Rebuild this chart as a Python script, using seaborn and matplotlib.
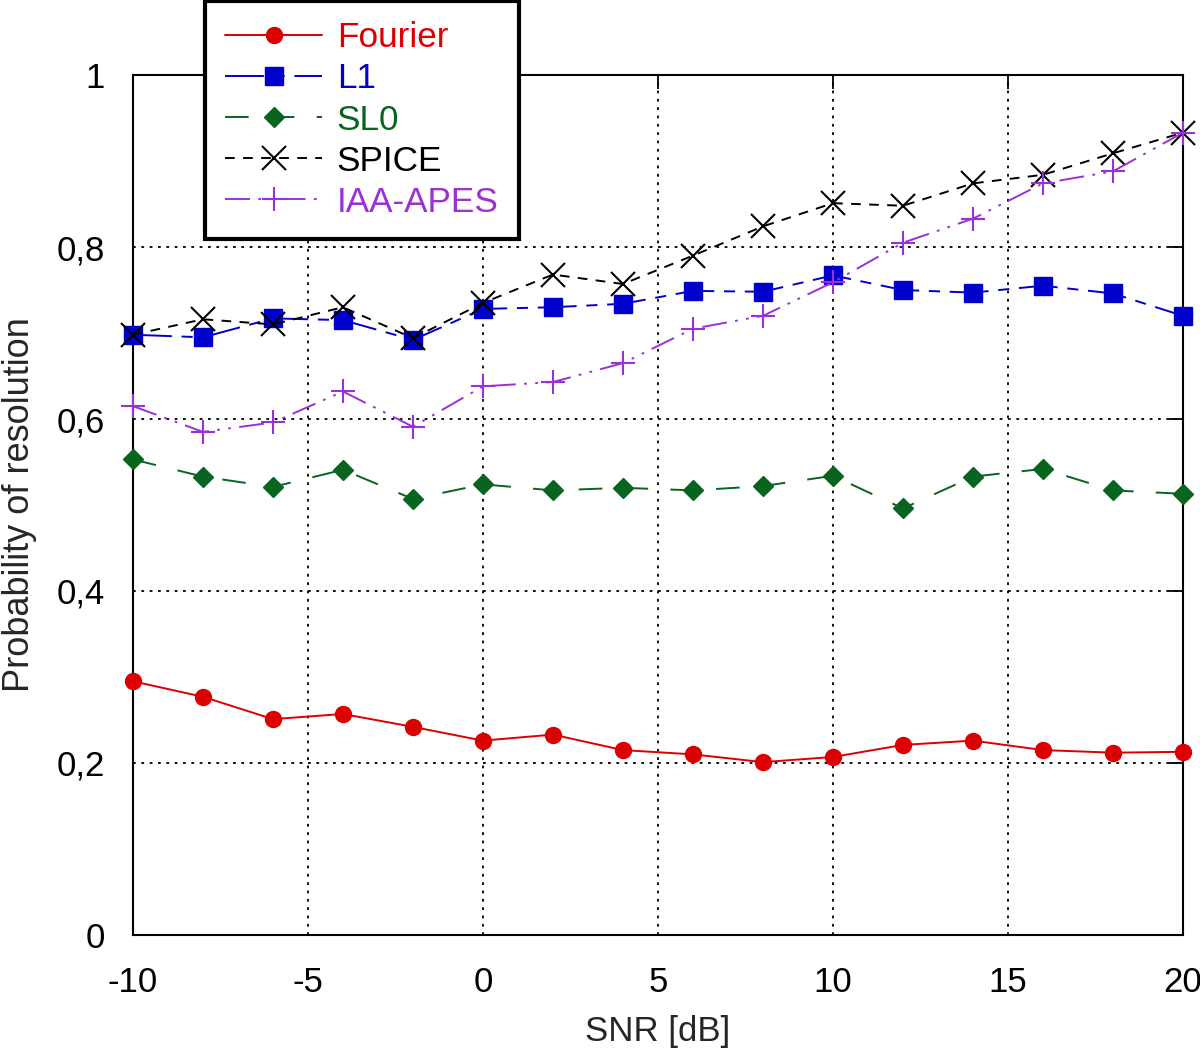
import matplotlib
matplotlib.use("Agg")
import matplotlib.pyplot as plt
import seaborn as sns
import pandas as pd
import numpy as np

snr = [-10, -8, -6, -4, -2, 0, 2, 4, 6, 8, 10, 12, 14, 16, 18, 20]
fourier = [0.295, 0.277, 0.251, 0.257, 0.242, 0.226, 0.233, 0.215, 0.210, 0.201, 0.207, 0.221, 0.226, 0.215, 0.212, 0.213]
l1 = [0.698, 0.695, 0.717, 0.715, 0.692, 0.728, 0.730, 0.734, 0.749, 0.748, 0.767, 0.750, 0.747, 0.755, 0.746, 0.720]
sl0 = [0.553, 0.533, 0.521, 0.541, 0.507, 0.524, 0.517, 0.520, 0.517, 0.522, 0.534, 0.496, 0.533, 0.542, 0.517, 0.513]
spice = [0.698, 0.716, 0.710, 0.730, 0.694, 0.735, 0.768, 0.757, 0.790, 0.824, 0.851, 0.848, 0.874, 0.884, 0.909, 0.933]
iaa = [0.615, 0.585, 0.596, 0.632, 0.591, 0.638, 0.643, 0.665, 0.705, 0.720, 0.759, 0.805, 0.833, 0.874, 0.888, 0.933]

series_names = ["Fourier", "L1", "SL0", "SPICE", "IAA-APES"]
series_values = [fourier, l1, sl0, spice, iaa]
colors = ["#dc0000", "#0000cc", "#08641e", "#000000", "#9b30d6"]

xticks = [-10, -5, 0, 5, 10, 15, 20]
yticks = [0, 0.2, 0.4, 0.6, 0.8, 1.0]
ytick_labels = ["0", "0,2", "0,4", "0,6", "0,8", "1"]

sns.set_style("white")
plt.rcParams["font.family"] = ["Liberation Sans", "DejaVu Sans"]
plt.rcParams["lines.scale_dashes"] = False

fig = plt.figure(figsize=(12, 10.51), dpi=100)
ax = fig.add_axes([0.1108, 0.1104, 0.9858 - 0.1108, 0.9286 - 0.1104])

styles = [
    dict(marker="o", markersize=11.5, linestyle="-", mew=1.0),
    dict(marker="s", markersize=13, linestyle=(0, (28, 7, 8, 7)), mew=1.0),
    dict(marker="D", markersize=9.8, linestyle=(0, (17, 16)), mew=1.0),
    dict(marker="x", markersize=17, linestyle=(0, (7, 6)), mew=1.5),
    dict(marker="+", markersize=17, linestyle=(0, (18, 6, 2, 6, 2, 6)), mew=1.5),
]

for name, vals, c, st in zip(series_names, series_values, colors, styles):
    df = pd.DataFrame({"SNR": snr, "P": vals})
    sns.lineplot(data=df, x="SNR", y="P", ax=ax, color=c, label=name,
                 marker=st["marker"], markersize=st["markersize"],
                 linestyle=st["linestyle"], linewidth=1.4,
                 markeredgecolor=c, markerfacecolor=c,
                 markeredgewidth=st["mew"], clip_on=False, zorder=3)

ax.set_xlim(-10, 20)
ax.set_ylim(0, 1)
ax.set_xticks(xticks)
ax.set_xticklabels([str(t) for t in xticks])
ax.set_yticks(yticks)
ax.set_yticklabels(ytick_labels)
ax.grid(True, color="black", linestyle=(0, (2, 4)), linewidth=1.3)
for s in ax.spines.values():
    s.set_color("black")
    s.set_linewidth(1.5)
ax.tick_params(axis="both", which="major", direction="in", length=10, width=1.3,
               top=True, right=True, labelsize=25, colors="black")
ax.tick_params(axis="y", pad=20)
ax.tick_params(axis="x", pad=22)
ax.set_xlabel("SNR [dB]", fontsize=25, labelpad=12)
ax.set_ylabel("Probability of resolution", fontsize=26, labelpad=14)

leg = ax.get_legend()
if leg is not None:
    leg.remove()
handles, labels = ax.get_legend_handles_labels()
lg = fig.legend(handles, labels, loc="upper left", bbox_to_anchor=(205 / 1200, 1 - 1 / 1051),
                frameon=True, fancybox=False, framealpha=1, edgecolor="black",
                fontsize=25.3, handlelength=2.75, handletextpad=0.42, labelspacing=0.23,
                borderpad=0.58, borderaxespad=0.0, numpoints=1)
lg.get_frame().set_linewidth(3)
for txt, c in zip(lg.get_texts(), colors):
    txt.set_color(c)

fig.savefig("out.png", dpi=100, facecolor="white")
